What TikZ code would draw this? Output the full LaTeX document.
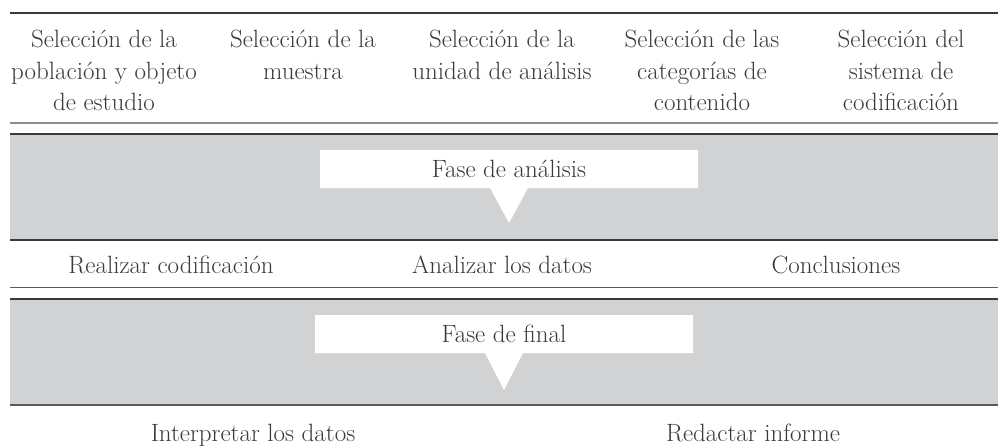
\documentclass[tikz,border=0pt]{standalone}
\usepackage{tikz}
\usetikzlibrary{shapes, shapes.callouts, positioning}
\definecolor{ink}{HTML}{3A3A3A}
\definecolor{band}{HTML}{D1D2D4}
\definecolor{rulegray}{HTML}{8C8C8C}
\definecolor{darkrule}{HTML}{5A5A5A}

\begin{document}
\begin{tikzpicture}[x=1pt, y=-1pt,
    every node/.style = {align=center, inner sep=0pt, text=ink,
        font=\fontsize{25}{31.5}\selectfont},
    steplabel/.style = {anchor=base},
    toplabel/.style = {anchor=north},
    phase/.style = {rectangle callout, fill=white, minimum width=378pt,
        minimum height=38pt, callout pointer width=38pt}]
    \useasboundingbox (0,0) rectangle (998,447);
    % grey bands
    \fill[band] (10,134) rectangle (998,240);
    \fill[band] (10,299) rectangle (998,405);
    % rules
    \draw[ink, line width=1.2pt] (10,13) -- (998,13);
    \draw[rulegray, line width=2pt] (10,123) -- (998,123);
    \draw[ink, line width=1.2pt] (10,134) -- (998,134);
    \draw[ink, line width=1.2pt] (10,240) -- (998,240);
    \draw[darkrule, line width=1pt] (10,287) -- (998,287);
    \draw[ink, line width=1.2pt] (10,299) -- (998,299);
    \draw[darkrule, line width=1.5pt] (10,405) -- (998,405);
    % selection steps
    \node[toplabel] (sel1) at (104,30) {Selección de la\\población y objeto\\de estudio};
    \node[toplabel] (sel2) at (303,30) {Selección de la\\muestra};
    \node[toplabel] (sel3) at (502,30) {Selección de la\\unidad de análisis};
    \node[toplabel] (sel4) at (702,30) {Selección de las\\categorías de\\contenido};
    \node[toplabel] (sel5) at (901,30) {Selección del\\sistema de\\codificación};
    % analysis phase
    \node[phase, callout absolute pointer={(509,223)}] (analisis) at (509,169) {Fase de análisis};
    \node[steplabel] (codif) at (171,273) {Realizar codificación};
    \node[steplabel] (datos) at (502,273) {Analizar los datos};
    \node[steplabel] (concl) at (836,273) {Conclusiones};
    % final phase
    \node[phase, callout absolute pointer={(504,390)}] (final) at (504,334) {Fase de final};
    \node[steplabel] (interp) at (253,441) {Interpretar los datos};
    \node[steplabel] (informe) at (753,441) {Redactar informe};
\end{tikzpicture}
\end{document}
